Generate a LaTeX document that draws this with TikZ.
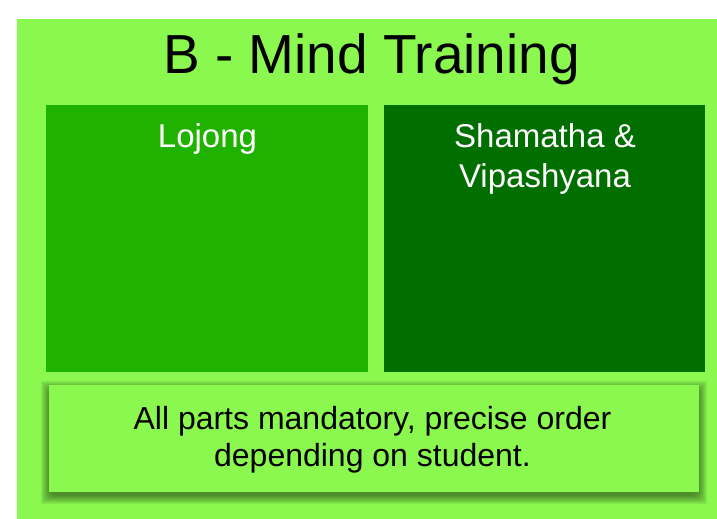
\documentclass[tikz,border=0pt]{standalone}
\usepackage{fontspec}
\setmainfont{Liberation Sans}
\usetikzlibrary{backgrounds}
\definecolor{bgG}{HTML}{8AF84F}
\definecolor{lojG}{HTML}{1FB300}
\definecolor{shaG}{HTML}{006F00}
\tikzset{
  panel/.style={draw=none, inner sep=0pt, outer sep=0pt},
  paneltext/.style={text=white, font=\fontsize{33}{40}\selectfont, align=center, inner sep=0pt},
  notetext/.style={text=black, font=\fontsize{32}{37}\selectfont, align=center, inner sep=0pt},
  shadowlayer/.style={fill=black, fill opacity=0.05, draw=none},
}
\begin{document}
\begin{tikzpicture}[x=1pt,y=1pt]
\useasboundingbox (0,0) rectangle (717,519);
\fill[white] (0,0) rectangle (717,519);
\fill[bgG] (17,0) rectangle (717,500);
\node[panel, fill=lojG, minimum width=322pt, minimum height=267pt] (lojong) at (207,280.5) {};
\node[panel, fill=shaG, minimum width=321pt, minimum height=267pt] (shamatha) at (544.5,280.5) {};
% soft shadow of the note box
\foreach \i in {0,...,9}{
  \fill[shadowlayer, rounded corners=\i pt] (49-8+\i*0.9, 27-4-8+\i*0.9) rectangle (699+8-\i*0.9, 134-4+8-\i*0.9);
}
\node[panel, fill=bgG, minimum width=650pt, minimum height=107pt] (note) at (374,80.5) {};
\node[anchor=base, inner sep=0pt, font=\fontsize{55}{60}\selectfont] (title) at (371.5,445.7) {B - Mind Training};
\node[paneltext, anchor=base] (lojongT) at (207.5,371) {Lojong};
\node[paneltext, anchor=base] (shamathaT) at (545,331) {Shamatha \&\\Vipashyana};
\node[notetext, anchor=base] (noteT) at (372.5,52) {All parts mandatory, precise order\\depending on student.};
\end{tikzpicture}
\end{document}
